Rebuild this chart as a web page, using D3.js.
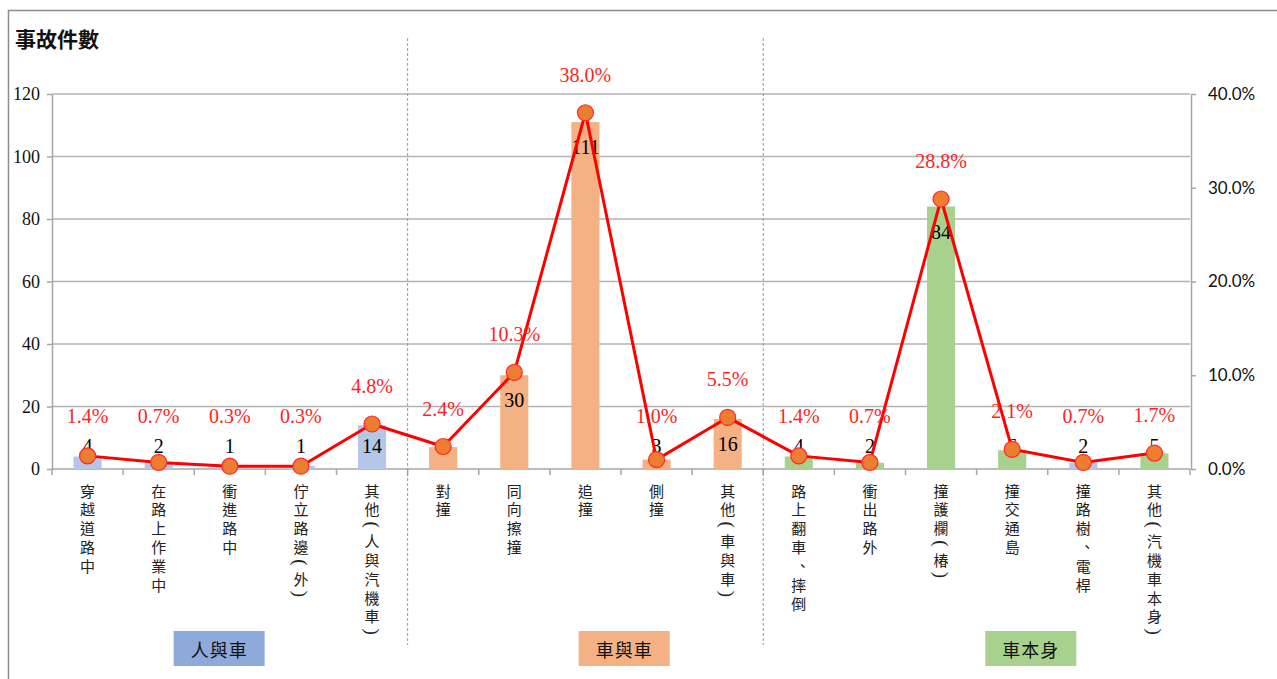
<!DOCTYPE html>
<html>
<head>
<meta charset="utf-8">
<script src="https://cdn.jsdelivr.net/npm/d3@7"></script>
<style>
  html, body { margin: 0; padding: 0; background: #fff; }
  svg { display: block; }
</style>
</head>
<body>
<svg id="chart" width="1277" height="679"></svg>
<script>
// ---------- DATA ----------
const categories = [
  "穿越道路中", "在路上作業中", "衝進路中", "佇立路邊(外)", "其他(人與汽機車)",
  "對撞", "同向擦撞", "追撞", "側撞", "其他(車與車)",
  "路上翻車、摔倒", "衝出路外", "撞護欄(椿)", "撞交通島", "撞路樹、電桿", "其他(汽機車本身)"
];
const counts = [4, 2, 1, 1, 14, 7, 30, 111, 3, 16, 4, 2, 84, 6, 2, 5];
const percents = [1.4, 0.7, 0.3, 0.3, 4.8, 2.4, 10.3, 38.0, 1.0, 5.5, 1.4, 0.7, 28.8, 2.1, 0.7, 1.7];
const barGroup = ["a","a","a","a","a","b","b","b","b","b","c","c","c","c","a","c"];
const groups = ["人與車", "車與車", "車本身"];
const groupStarts = [0, 5, 10];
const groupEnds = [5, 10, 16];
const leftTicks = [0, 20, 40, 60, 80, 100, 120];
const rightTicks = [0, 0.1, 0.2, 0.3, 0.4];
const yTitle = "事故件數";

// ---------- LAYOUT ----------
const W = 1277, H = 679;
const plot = { left: 52, right: 1190, top: 94, bottom: 469 };
const barColors = { a: "#b4c7e7", b: "#f4b183", c: "#a9d18e" };
const boxColors = ["#8eaadb", "#f4b183", "#a9d18e"];
const boxFrac = [0.47, 0.609, 0.627];
const serif = "'Liberation Serif', 'Times New Roman', serif";
const cjk = "'Noto Sans CJK TC', 'Noto Sans CJK SC', sans-serif";

const svg = d3.select("#chart");

const x = d3.scaleBand().domain(d3.range(categories.length)).range([plot.left, plot.right]).padding(0);
const y = d3.scaleLinear().domain([0, 120]).range([plot.bottom, plot.top]);
const y2 = d3.scaleLinear().domain([0, 0.4]).range([plot.bottom, plot.top]);
const bw = x.bandwidth() * 0.395;
const cx = i => x(i) + x.bandwidth() / 2;

// outer border
svg.append("path").attr("d", `M8.5,${H} V10.5 H${W}`).attr("fill", "none")
  .attr("stroke", "#8c8c8c").attr("stroke-width", 1.5);

// title
svg.append("text").attr("x", 15).attr("y", 47).text(yTitle)
  .attr("font-family", cjk).attr("font-size", 21).attr("font-weight", "bold").attr("fill", "#111");

// gridlines
svg.append("g").selectAll("line").data(leftTicks.filter(d => d > 0)).join("line")
  .attr("x1", plot.left).attr("x2", plot.right)
  .attr("y1", d => y(d)).attr("y2", d => y(d))
  .attr("stroke", "#b3b3b3").attr("stroke-width", 1.5);

// left axis
const gl = svg.append("g").attr("transform", `translate(${plot.left},0)`)
  .call(d3.axisLeft(y).tickValues(leftTicks).tickSize(5).tickPadding(7).tickSizeOuter(0));
gl.select(".domain").attr("stroke", "#a6a6a6").attr("stroke-width", 1.5);
gl.selectAll(".tick line").attr("stroke", "#a6a6a6").attr("stroke-width", 1.5);
gl.selectAll(".tick text").attr("font-family", serif).attr("font-size", 18).attr("fill", "#111");

// right axis
const gr = svg.append("g").attr("transform", `translate(${plot.right + 1},0)`)
  .call(d3.axisRight(y2).tickValues(rightTicks).tickFormat(d3.format(".1%")).tickSize(5).tickPadding(12).tickSizeOuter(0));
gr.select(".domain").attr("stroke", "#a6a6a6").attr("stroke-width", 1.5);
gr.selectAll(".tick line").attr("stroke", "#a6a6a6").attr("stroke-width", 1.5);
gr.selectAll(".tick text").attr("font-family", "Lato, 'Open Sans', sans-serif").attr("font-size", 17).attr("fill", "#111");

// x axis line + ticks at band boundaries
svg.append("line").attr("x1", plot.left).attr("x2", plot.right)
  .attr("y1", plot.bottom).attr("y2", plot.bottom).attr("stroke", "#a6a6a6").attr("stroke-width", 1.5);
svg.append("g").selectAll("line").data(d3.range(categories.length + 1)).join("line")
  .attr("x1", i => plot.left + i * x.step()).attr("x2", i => plot.left + i * x.step())
  .attr("y1", plot.bottom).attr("y2", plot.bottom + 6)
  .attr("stroke", "#a6a6a6").attr("stroke-width", 1.5);

// group dividers (dashed)
svg.append("g").selectAll("line").data(groupStarts.slice(1)).join("line")
  .attr("x1", i => x(i)).attr("x2", i => x(i))
  .attr("y1", 38).attr("y2", 645)
  .attr("stroke", "#9a9a9a").attr("stroke-width", 1).attr("stroke-dasharray", "3,2");

// bars
svg.append("g").selectAll("rect").data(counts).join("rect")
  .attr("x", (d, i) => cx(i) - bw / 2).attr("width", bw)
  .attr("y", d => y(d)).attr("height", d => y(0) - y(d))
  .attr("fill", (d, i) => barColors[barGroup[i]]);

// count labels
svg.append("g").selectAll("text").data(counts).join("text")
  .attr("x", (d, i) => cx(i))
  .attr("y", d => Math.min(y(d) + 25, plot.bottom - 23))
  .attr("text-anchor", "middle").attr("dominant-baseline", "central")
  .attr("font-family", serif).attr("font-size", 20).attr("fill", "#000")
  .text(d => d);

// line
svg.append("path").datum(percents)
  .attr("d", d3.line().x((d, i) => cx(i)).y(d => y2(d / 100)))
  .attr("fill", "none").attr("stroke", "#ff0000").attr("stroke-width", 3).attr("stroke-linejoin", "round");

// markers
svg.append("g").selectAll("circle").data(percents).join("circle")
  .attr("cx", (d, i) => cx(i)).attr("cy", d => y2(d / 100)).attr("r", 8)
  .attr("fill", "#ed7d31").attr("stroke", "#ff2a2a").attr("stroke-width", 1.2);

// percent labels
svg.append("g").selectAll("text").data(percents).join("text")
  .attr("x", (d, i) => cx(i))
  .attr("y", d => Math.min(y2(d / 100) - 38, 416))
  .attr("text-anchor", "middle").attr("dominant-baseline", "central")
  .attr("font-family", serif).attr("font-size", 20).attr("fill", "#ff1f1f")
  .text(d => d.toFixed(1) + "%");

// category labels (vertical)
const stepChar = 18.9, stepParen = 12.5, startY = 490;
categories.forEach((label, i) => {
  const g = svg.append("g");
  let pos = startY, prevAdv = null;
  [...label].forEach(ch => {
    const isParen = (ch === "(" || ch === ")");
    const adv = isParen ? stepParen : stepChar;
    if (prevAdv !== null) pos += prevAdv / 2 + adv / 2;
    prevAdv = adv;
    if (isParen) {
      g.append("text")
        .attr("transform", `translate(${cx(i)},${pos}) rotate(90)`)
        .attr("text-anchor", "middle").attr("dominant-baseline", "central")
        .attr("font-family", serif).attr("font-size", 19).attr("fill", "#222")
        .text(ch);
    } else if (ch === "、") {
      g.append("text")
        .attr("x", cx(i) + 4).attr("y", pos - 1)
        .attr("text-anchor", "middle").attr("dominant-baseline", "central")
        .attr("font-family", cjk).attr("font-size", 14).attr("fill", "#222")
        .text(ch);
    } else {
      g.append("text")
        .attr("x", cx(i)).attr("y", pos)
        .attr("text-anchor", "middle").attr("dominant-baseline", "central")
        .attr("font-family", cjk).attr("font-size", 15).attr("fill", "#222")
        .text(ch);
    }
  });
});

// group label boxes
const boxW = 91, boxH = 35, boxY = 631;
groups.forEach((g, k) => {
  const x0 = x(groupStarts[k]);
  const x1 = groupEnds[k] < categories.length ? x(groupEnds[k]) : plot.right;
  const c = x0 + boxFrac[k] * (x1 - x0);
  svg.append("rect").attr("x", c - boxW / 2).attr("y", boxY).attr("width", boxW).attr("height", boxH)
    .attr("fill", boxColors[k]);
  svg.append("text").attr("x", c).attr("y", boxY + boxH / 2)
    .attr("text-anchor", "middle").attr("dominant-baseline", "central")
    .attr("font-family", cjk).attr("font-size", 18).attr("letter-spacing", 1).attr("fill", "#111")
    .text(g);
});
</script>
</body>
</html>
